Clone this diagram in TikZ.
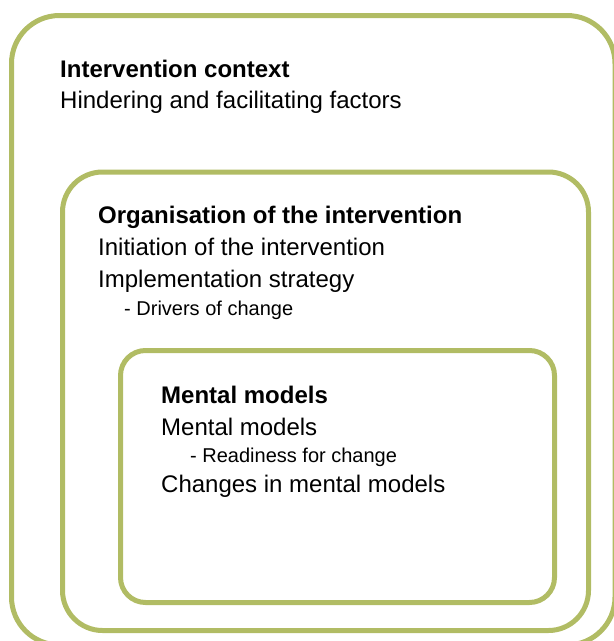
\documentclass[tikz,border=0pt]{standalone}
\usepackage{fontspec}
\setmainfont{Liberation Sans}
\usetikzlibrary{positioning}

\definecolor{olive}{RGB}{177,188,100}

\begin{document}
\begin{tikzpicture}[x=1pt, y=1pt,
    frame/.style={rectangle, draw=olive, line width=5pt, inner sep=0pt},
    head/.style={anchor=base west, inner sep=0pt, font=\fontsize{24}{29}\selectfont\bfseries},
    item/.style={anchor=base west, inner sep=0pt, font=\fontsize{24}{29}\selectfont},
    subitem/.style={anchor=base west, inner sep=0pt, font=\fontsize{20}{24}\selectfont}
]
    \clip (0,0) rectangle (614,-641);

    % Nested frames
    \node [frame, rounded corners=48pt, minimum width=603.5pt, minimum height=629.5pt] (context) at (313.25,-330.25) {};
    \node [frame, rounded corners=40pt, minimum width=526pt, minimum height=458.5pt] (orga) at (325.5,-401.25) {};
    \node [frame, rounded corners=25pt, minimum width=434pt, minimum height=252pt] (mental) at (337.5,-476.5) {};

    % Intervention context
    \node [head] (ctxhead) at (60,-77) {Intervention context};
    \node [item] (factors) at ([yshift=-31pt]ctxhead.base west) {Hindering and facilitating factors};

    % Organisation
    \node [head] (orghead) at (98,-223) {Organisation of the intervention};
    \node [item] (initiation) at ([yshift=-32pt]orghead.base west) {Initiation of the intervention};
    \node [item] (strategy) at ([yshift=-32pt]initiation.base west) {Implementation strategy};
    \node [subitem] (drivers) at ([xshift=26pt, yshift=-28pt]strategy.base west) {- Drivers of change};

    % Mental models
    \node [head] (mmhead) at (161,-403) {Mental models};
    \node [item] (models) at ([yshift=-32pt]mmhead.base west) {Mental models};
    \node [subitem] (readiness) at ([xshift=29pt, yshift=-27pt]models.base west) {- Readiness for change};
    \node [item] (changes) at ([yshift=-57pt]models.base west) {Changes in mental models};
\end{tikzpicture}
\end{document}
